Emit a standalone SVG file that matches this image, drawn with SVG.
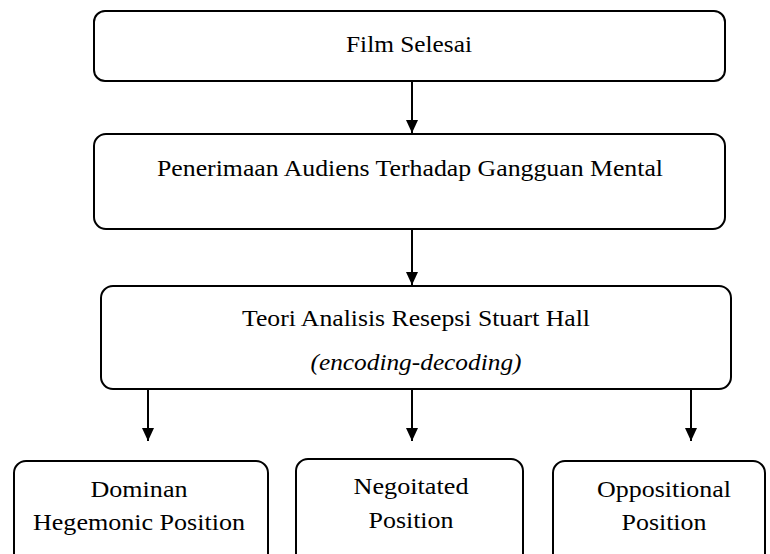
<svg xmlns="http://www.w3.org/2000/svg" width="770" height="554" viewBox="0 0 770 554">
<style>
.box{fill:#fff;stroke:#000;stroke-width:2}
.t{font-family:"Liberation Serif","Times New Roman",serif;font-size:23px;fill:#000;text-anchor:middle}
.i{font-style:italic}
.c line{stroke:#000;stroke-width:2}
</style>
<defs>
<marker id="ah" markerWidth="14" markerHeight="12" refX="13" refY="6" orient="auto" markerUnits="userSpaceOnUse" viewBox="0 0 14 12">
<path d="M0,0 L13,6 L0,12 Z" fill="#000"/>
</marker>
<clipPath id="clip3"><rect x="101" y="286" width="630" height="89"/></clipPath>
</defs>
<rect width="770" height="554" fill="#fff"/>
<g class="c" id="connectors">
<line x1="412" y1="81" x2="412" y2="133" marker-end="url(#ah)"/>
<line x1="412" y1="229" x2="412" y2="285" marker-end="url(#ah)"/>
<line x1="148" y1="389" x2="148" y2="441" marker-end="url(#ah)"/>
<line x1="412" y1="389" x2="412" y2="441" marker-end="url(#ah)"/>
<line x1="691" y1="389" x2="691" y2="441" marker-end="url(#ah)"/>
</g>
<g id="film">
<rect class="box" x="94" y="11" width="631" height="70" rx="11"/>
<text class="t" x="409" y="52" textLength="126" lengthAdjust="spacingAndGlyphs">Film Selesai</text>
</g>
<g id="penerimaan">
<rect class="box" x="94" y="134" width="631" height="95" rx="12"/>
<text class="t" x="410" y="176" textLength="506" lengthAdjust="spacingAndGlyphs">Penerimaan Audiens Terhadap Gangguan Mental</text>
</g>
<g id="teori">
<rect class="box" x="101" y="286" width="630" height="103" rx="12"/>
<text class="t" x="416" y="326" textLength="348" lengthAdjust="spacingAndGlyphs">Teori Analisis Resepsi Stuart Hall</text>
<text class="t i" x="416" y="370" textLength="211" lengthAdjust="spacingAndGlyphs" clip-path="url(#clip3)">(encoding-decoding)</text>
</g>
<g id="dominan">
<rect class="box" x="14" y="461" width="254" height="110" rx="12"/>
<text class="t" x="139" y="497" textLength="97" lengthAdjust="spacingAndGlyphs">Dominan</text>
<text class="t" x="139" y="530" textLength="212" lengthAdjust="spacingAndGlyphs">Hegemonic Position</text>
</g>
<g id="negotiated">
<rect class="box" x="296" y="459" width="227" height="112" rx="12"/>
<text class="t" x="411" y="494" textLength="115" lengthAdjust="spacingAndGlyphs">Negoitated</text>
<text class="t" x="411" y="528" textLength="85" lengthAdjust="spacingAndGlyphs">Position</text>
</g>
<g id="oppositional">
<rect class="box" x="553" y="461" width="212" height="110" rx="12"/>
<text class="t" x="664" y="497" textLength="134" lengthAdjust="spacingAndGlyphs">Oppositional</text>
<text class="t" x="664" y="530" textLength="85" lengthAdjust="spacingAndGlyphs">Position</text>
</g>
</svg>
